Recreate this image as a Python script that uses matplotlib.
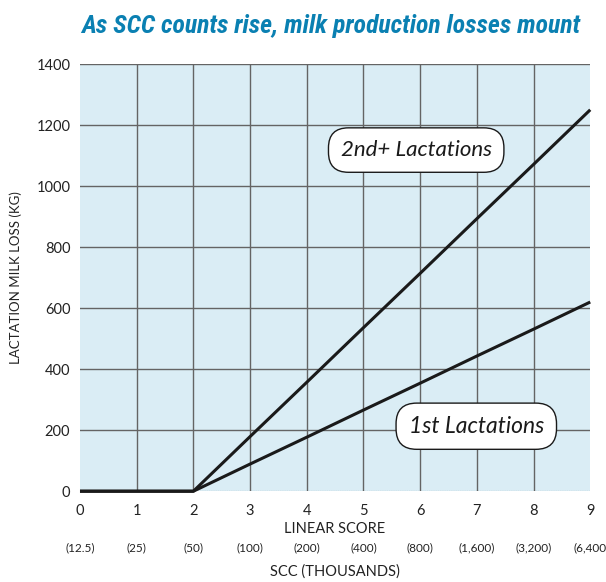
import matplotlib
matplotlib.use("Agg")
import matplotlib.pyplot as plt
import matplotlib.transforms as mtransforms

linear_score = [0, 1, 2, 3, 4, 5, 6, 7, 8, 9]
scc_labels = ["(12.5)", "(25)", "(50)", "(100)", "(200)", "(400)",
              "(800)", "(1,600)", "(3,200)", "(6,400"]
loss_1st = [0, 0, 0, 89, 177, 266, 354, 443, 531, 620]
loss_2nd = [0, 0, 0, 179, 357, 536, 714, 893, 1071, 1250]
y_ticks = [0, 200, 400, 600, 800, 1000, 1200, 1400]

plt.rcParams['font.family'] = ['Lato', 'DejaVu Sans']

fig = plt.figure(figsize=(6.06, 5.82), dpi=100)
ax = fig.add_axes([0.132, 0.156, 0.842, 0.734])
ax.set_facecolor("#daedf5")

ax.set_xlim(0, 9)
ax.set_ylim(0, 1400)
ax.set_xticks(linear_score)
ax.set_yticks(y_ticks)
for s in ax.spines.values():
    s.set_visible(False)
ax.tick_params(length=0, labelsize=10.5, colors="#222222", pad=7)
ax.tick_params(axis="x", pad=9)

for x in linear_score[1:-1]:
    ax.axvline(x, color="#646464", lw=1.0, zorder=1)
for y in y_ticks[1:]:
    ax.axhline(y, color="#646464", lw=1.0, zorder=1)
ax.plot([2, 9], [0, 0], color="#555555", lw=0.8, ls=(0, (1, 1)), zorder=2)

ax.plot(linear_score, loss_2nd, color="#1a1a1a", lw=2.2, zorder=3,
        solid_capstyle="butt", clip_on=False)
ax.plot(linear_score, loss_1st, color="#1a1a1a", lw=2.2, zorder=3,
        solid_capstyle="butt", clip_on=False)

box = dict(boxstyle="round,pad=0.55,rounding_size=0.9", fc="white",
           ec="#1a1a1a", lw=1.0)
ax.text(5.93, 1118, "2nd+ Lactations", fontsize=16, style="italic",
        ha="center", va="center", color="#1a1a1a", bbox=box, zorder=5)
ax.text(6.99, 213, "1st Lactations", fontsize=16.5, style="italic",
        ha="center", va="center", color="#1a1a1a", bbox=box, zorder=5)

ax.set_xlabel("LINEAR SCORE", fontsize=10.5, color="#222222", labelpad=3)
ax.set_ylabel("LACTATION MILK LOSS (KG)", fontsize=9.5, color="#222222",
              labelpad=10)

trans = mtransforms.blended_transform_factory(ax.transData, fig.transFigure)
for x, lab in zip(linear_score, scc_labels):
    ax.text(x, 1 - 548 / 582, lab, transform=trans, fontsize=8.5,
            ha="center", va="center", color="#222222")
fig.text(0.5 * (0.132 + 0.974), 1 - 572 / 582, "SCC (THOUSANDS)",
         fontsize=10.5, ha="center", va="center", color="#222222")

fig.text(0.546, 1 - 26 / 582,
         "As SCC counts rise, milk production losses mount",
         fontsize=18.5, fontweight="bold", style="italic", color="#0a80b2",
         ha="center", va="center", fontstretch="condensed",
         family=["Liberation Sans Narrow", "DejaVu Sans Condensed",
                 "Roboto Condensed", "Roboto", "DejaVu Sans"])

fig.savefig("out.png", dpi=100)
